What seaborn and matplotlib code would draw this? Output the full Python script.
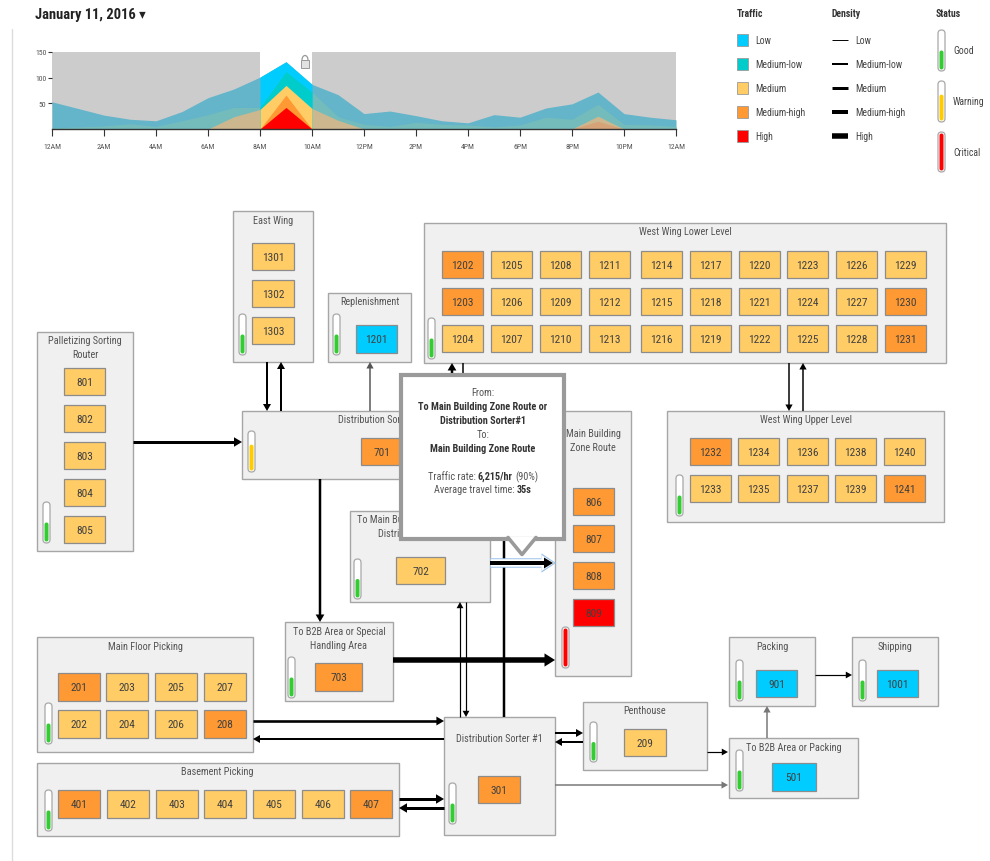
import numpy as np
import matplotlib
matplotlib.use("Agg")
import matplotlib.pyplot as plt
from matplotlib import font_manager
from matplotlib.patches import Rectangle, FancyBboxPatch, Polygon, Arc
import seaborn as sns

# ---------------- data ----------------
hours = np.arange(25)
hour_ticks = [0, 2, 4, 6, 8, 10, 12, 14, 16, 18, 20, 22, 24]
hour_labels = ["12AM", "2AM", "4AM", "6AM", "8AM", "10AM", "12PM",
               "2PM", "4PM", "6PM", "8PM", "10PM", "12AM"]

# top of each traffic band per hour (bands overlap, drawn back to front)
low_top = [53, 40, 27, 19, 16, 34, 61, 78, 101, 131, 87, 67, 30, 35, 26, 16,
           12, 28, 23, 41, 49, 72, 30, 23, 18]
medlow_top = [2, 4, 6, 10, 5, 16, 28, 42, 42, 112, 72, 24, 9, 5, 13, 9,
              8, 4, 8, 23, 19, 48, 9, 8, 5]
medium_top = [0, 0, 0, 0, 0, 0, 0, 24, 38, 85, 40, 17, 0, 0, 0, 0,
              0, 0, 0, 0, 0, 25, 0, 0, 0]
medhigh_top = [0, 0, 0, 0, 0, 0, 0, 0, 0, 66, 0, 0, 0, 0, 0, 0,
               0, 0, 0, 0, 0, 15, 0, 0, 0]
high_top = [0, 0, 0, 0, 0, 0, 0, 0, 0, 42, 0, 0, 0, 0, 0, 0,
            0, 0, 0, 0, 0, 0, 0, 0, 0]

traffic_levels = ["Low", "Medium-low", "Medium", "Medium-high", "High"]
traffic_codes = ["L", "ML", "M", "MH", "H"]
status_labels = ["Good", "Warning", "Critical"]
status_fill = [0.5, 0.68, 1.0]

east_wing = ["1301", "1302", "1303"]
east_wing_lvl = ["M", "M", "M"]
replenishment = ["1201"]
replenishment_lvl = ["L"]
palletizing = ["801", "802", "803", "804", "805"]
palletizing_lvl = ["M", "M", "M", "M", "M"]
sorter2 = ["701"]
sorter2_lvl = ["MH"]
wwll_rows = [["1202", "1205", "1208", "1211", "1214", "1217", "1220", "1223", "1226", "1229"],
             ["1203", "1206", "1209", "1212", "1215", "1218", "1221", "1224", "1227", "1230"],
             ["1204", "1207", "1210", "1213", "1216", "1219", "1222", "1225", "1228", "1231"]]
wwll_lvl = [["MH", "M", "M", "M", "M", "M", "M", "M", "M", "M"],
            ["MH", "M", "M", "M", "M", "M", "M", "M", "M", "MH"],
            ["M", "M", "M", "M", "M", "M", "M", "M", "M", "MH"]]
wwul_rows = [["1232", "1234", "1236", "1238", "1240"],
             ["1233", "1235", "1237", "1239", "1241"]]
wwul_lvl = [["MH", "M", "M", "M", "M"],
            ["M", "M", "M", "M", "MH"]]
route702 = ["702"]
route702_lvl = ["M"]
main_zone = ["806", "807", "808", "809"]
main_zone_lvl = ["MH", "MH", "MH", "H"]
special703 = ["703"]
special703_lvl = ["MH"]
floor_rows = [["201", "203", "205", "207"], ["202", "204", "206", "208"]]
floor_lvl = [["MH", "M", "M", "M"], ["M", "M", "M", "MH"]]
basement = ["401", "402", "403", "404", "405", "406", "407"]
basement_lvl = ["MH", "M", "M", "M", "M", "M", "MH"]
sorter1 = ["301"]
sorter1_lvl = ["MH"]
penthouse = ["209"]
penthouse_lvl = ["M"]
b2b_pack = ["501"]
b2b_pack_lvl = ["L"]
packing = ["901"]
packing_lvl = ["L"]
shipping = ["1001"]
shipping_lvl = ["L"]

# ---------------- style ----------------
sns.set_theme(style="white")

# the reference uses a narrow sans; take a condensed face if one is installed
prefs = ["Liberation Sans Narrow", "Roboto Condensed", "Open Sans Condensed", "Noto Sans",
         "Open Sans", "Roboto", "DejaVu Sans"]
cond = {}
for f in font_manager.fontManager.ttflist:
    if f.stretch in ("condensed", "semi-condensed", "extra-condensed") or "Narrow" in f.name \
            or "Condensed" in f.name:
        cond.setdefault(f.name, f.stretch)
FONT, STRETCH = "Liberation Sans", "normal"
for p in prefs:
    if p in cond:
        FONT, STRETCH = p, cond[p]
        break
plt.rcParams["font.family"] = [FONT, "DejaVu Sans"]
plt.rcParams["font.stretch"] = STRETCH

traffic_colors = sns.color_palette(["#00ccff", "#00cccc", "#ffcc66", "#ff9933", "#ff0000"])
muted_colors = ["#64b4ca", "#74bcbc", "#cdb78e", "#d5a377", "#d98a80"]
status_colors = ["#33cc33", "#ffcc00", "#ff0000"]
LEVEL = dict(zip(traffic_codes, traffic_colors))
DENS = dict(zip(traffic_codes, [1.2, 2.0, 3.0, 4.0, 5.5]))
PANEL_FC, PANEL_EC, TXT = "#f0f0f0", "#a6a6a6", "#555555"

fig = plt.figure(figsize=(9.9, 8.62), dpi=100)
ax = fig.add_axes([0, 0, 1, 1])
ax.set_xlim(0, 990)
ax.set_ylim(862, 0)
ax.axis("off")
renderer = fig.canvas.get_renderer()


def text_w(s, weight, size):
    fp = font_manager.FontProperties(family=[FONT, "DejaVu Sans"], size=size, weight=weight,
                                     stretch=STRETCH)
    return renderer.get_text_width_height_descent(s, fp, ismath=False)[0]


# calibrate: "West Wing Lower Level" is about 94 px wide in the reference
K = 94.0 / text_w("West Wing Lower Level", "normal", 8)
FS = 8 * K


def panel(x0, y0, x1, y1, lines, ty, cx=None):
    ax.add_patch(Rectangle((x0, y0), x1 - x0, y1 - y0, fc=PANEL_FC, ec=PANEL_EC, lw=1.0, zorder=2))
    cx = (x0 + x1) / 2 if cx is None else cx
    for i, s in enumerate(lines):
        ax.text(cx, ty + i * 14, s, ha="center", va="center", fontsize=FS, color=TXT, zorder=3)


def tile(x, y, label, lvl, w=41, h=27):
    ax.add_patch(Rectangle((x, y), w, h, fc=LEVEL[lvl], ec="#8c8c8c", lw=0.9, zorder=3))
    ax.text(x + w / 2, y + h / 2 + 0.5, label, ha="center", va="center", fontsize=FS * 1.1,
            color="#404040", zorder=4)


def thermo(x, y0, y1, status, w=7):
    k = status_labels.index(status)
    ax.add_patch(FancyBboxPatch((x, y0), w, y1 - y0, boxstyle=f"round,pad=0,rounding_size={w / 2}",
                                fc="white", ec="#a8a8a8", lw=0.9, zorder=3))
    fh = (y1 - y0 - 3) * status_fill[k]
    iw = w - 3
    ax.add_patch(FancyBboxPatch((x + 1.5, y1 - 1.5 - fh), iw, fh,
                                boxstyle=f"round,pad=0,rounding_size={iw / 2}",
                                fc=status_colors[k], ec="none", zorder=4))


def arrow(x0, y0, x1, y1, dens, color="black", head=True, z=5):
    w = DENS[dens] if isinstance(dens, str) else dens
    dx, dy = x1 - x0, y1 - y0
    L = np.hypot(dx, dy)
    ux, uy = dx / L, dy / L
    if not head:
        ax.plot([x0, x1], [y0, y1], color=color, lw=w * 0.72, solid_capstyle="butt", zorder=z)
        return
    hl, hw = 5 + w, 5 + 1.5 * w
    ax.plot([x0, x1 - ux * hl * 0.6], [y0, y1 - uy * hl * 0.6], color=color, lw=w * 0.72,
            solid_capstyle="butt", zorder=z)
    bx, by = x1 - ux * hl, y1 - uy * hl
    px, py = -uy, ux
    ax.add_patch(Polygon([(x1, y1), (bx + px * hw / 2, by + py * hw / 2),
                          (bx - px * hw / 2, by - py * hw / 2)], closed=True,
                         fc=color, ec="none", zorder=z))


# page border
ax.plot([12, 12], [30, 862], color="#dcdcdc", lw=1, zorder=1)

# title
ax.text(35, 15, "January 11, 2016 \u25BE", fontsize=FS * 1.4, color="#222222", va="center",
        ha="left", fontweight="semibold")

# ---------------- legend ----------------
LFS = FS * 0.95
ax.text(737, 14, "Traffic", fontsize=LFS, fontweight="bold", color="#333333", va="center")
ax.text(832, 14, "Density", fontsize=LFS, fontweight="bold", color="#333333", va="center")
ax.text(936, 14, "Status", fontsize=LFS, fontweight="bold", color="#333333", va="center")
for i, (lab, c, code) in enumerate(zip(traffic_levels, traffic_colors, traffic_codes)):
    y = 41 + i * 24
    ax.add_patch(Rectangle((737, y - 6), 11, 12, fc=c, ec="#9a9a9a", lw=0.6))
    ax.text(755, y, lab, fontsize=LFS, color="#444444", va="center")
    ax.plot([832, 848], [y, y], color="black", lw=DENS[code] * 0.72 * (0.8 if i == 0 else 1),
            solid_capstyle="butt")
    ax.text(855, y, lab, fontsize=LFS, color="#444444", va="center")
for lab, (y0, y1), ly in zip(status_labels, [(31, 72), (82, 123), (133, 173)], [51, 102, 153]):
    thermo(938, y0, y1, lab)
    ax.text(953, ly, lab, fontsize=LFS, color="#444444", va="center")

# ---------------- zones ----------------
panel(233, 212, 313, 363, ["East Wing"], 221)
for lab, lvl, y in zip(east_wing, east_wing_lvl, [244, 281, 318]):
    tile(252, y, lab, lvl, w=42)
thermo(239, 315, 356, "Good")

panel(328, 294, 411, 363, ["Replenishment"], 302)
tile(356, 326, replenishment[0], replenishment_lvl[0], h=28)
thermo(333, 315, 356, "Good")

panel(37, 333, 133, 552, ["Palletizing Sorting", "Router"], 341)
for lab, lvl, y in zip(palletizing, palletizing_lvl, [369, 406, 443, 480, 517]):
    tile(64, y, lab, lvl)
thermo(43, 503, 544, "Good")

panel(242, 412, 520, 480, ["Distribution Sorter #2"], 420, cx=381)
tile(361, 439, sorter2[0], sorter2_lvl[0], w=42)
thermo(248, 432, 473, "Warning")

panel(424, 224, 946, 364, ["West Wing Lower Level"], 232, cx=685)
for row, lrow, y in zip(wwll_rows, wwll_lvl, [252, 289, 326]):
    for lab, lvl, x in zip(row, lrow, [442, 491, 540, 589, 641, 690, 739, 787, 836, 885]):
        tile(x, y, lab, lvl)
thermo(428, 319, 360, "Good")

panel(667, 412, 944, 523, ["West Wing Upper Level"], 420, cx=806)
for row, lrow, y in zip(wwul_rows, wwul_lvl, [439, 476]):
    for lab, lvl, x in zip(row, lrow, [690, 738, 787, 835, 884]):
        tile(x, y, lab, lvl)
thermo(676, 476, 517, "Good")

panel(350, 512, 490, 603, ["To Main Building Zone Route or", "Distribution Sorter#1"], 520, cx=420)
tile(396, 558, route702[0], route702_lvl[0], w=49)
thermo(354, 560, 600, "Good")

panel(555, 412, 631, 677, ["Main Building", "Zone Route"], 434, cx=593)
for lab, lvl, y in zip(main_zone, main_zone_lvl, [489, 526, 563, 600]):
    tile(573, y, lab, lvl)
thermo(562, 628, 669, "Critical")

panel(285, 623, 393, 702, ["To B2B Area or Special", "Handling Area"], 632)
tile(315, 664, special703[0], special703_lvl[0], w=47, h=28)
thermo(288, 658, 699, "Good")

panel(37, 638, 253, 753, ["Main Floor Picking"], 647, cx=145)
for row, lrow, y in zip(floor_rows, floor_lvl, [674, 711]):
    for lab, lvl, x in zip(row, lrow, [58, 106, 155, 204]):
        tile(x, y, lab, lvl, w=42, h=28)
thermo(45, 704, 745, "Good")

panel(37, 764, 399, 837, ["Basement Picking"], 772, cx=217)
for lab, lvl, x in zip(basement, basement_lvl, [58, 107, 156, 204, 253, 302, 350]):
    tile(x, 791, lab, lvl, w=42, h=28)
thermo(45, 791, 832, "Good")

panel(444, 718, 555, 836, ["Distribution Sorter #1"], 739)
tile(478, 777, sorter1[0], sorter1_lvl[0], w=42)
thermo(449, 784, 825, "Good")

panel(583, 703, 707, 771, ["Penthouse"], 711)
tile(624, 730, penthouse[0], penthouse_lvl[0], w=42)
thermo(590, 723, 763, "Good")

panel(729, 739, 858, 799, ["To B2B Area or Packing"], 748)
tile(772, 764, b2b_pack[0], b2b_pack_lvl[0], w=44, h=28)
thermo(736, 751, 792, "Good")

panel(729, 638, 815, 707, ["Packing"], 647)
tile(756, 671, packing[0], packing_lvl[0])
thermo(736, 661, 702, "Good")

panel(852, 638, 938, 707, ["Shipping"], 647)
tile(877, 671, shipping[0], shipping_lvl[0])
thermo(859, 661, 702, "Good")

# ---------------- flows ----------------
arrow(267, 363, 267, 412, "ML")
arrow(281, 412, 281, 363, "ML")
arrow(370, 412, 370, 363, 1.5, color="#555555")
arrow(133, 443, 242, 443, "M")
arrow(320, 480, 320, 623, 2.5)
arrow(452, 420, 452, 364, 2.5)
arrow(463, 364, 463, 420, 1.5, head=False)
arrow(504, 450, 504, 718, 2.5, head=False)
arrow(460, 718, 460, 603, "L")
arrow(466, 603, 466, 718, "L")
arrow(393, 661, 555, 661, "H")
arrow(253, 722, 444, 722, 2.6)
arrow(444, 740, 253, 740, "ML")
arrow(399, 800, 444, 800, "M")
arrow(444, 809, 399, 809, "M")
arrow(555, 734, 583, 734, "ML")
arrow(583, 743, 555, 743, "ML")
arrow(707, 753, 728, 753, "L")
arrow(555, 786, 728, 786, 1.5, color="#777777")
arrow(767, 739, 767, 707, 1.5, color="#777777")
arrow(815, 676, 852, 676, "L")
arrow(789, 364, 789, 412, 1.5)
arrow(803, 412, 803, 364, 1.5)

# highlighted flow (702 -> main building zone route)
arrow(490, 564, 556, 564, 9.5, color="#9cc3ea", z=6)
arrow(491, 564, 554, 564, 7.5, color="white", z=6)
arrow(490, 564, 553, 564, "MH", z=7)

# ---------------- tooltip ----------------
ax.add_patch(Rectangle((401, 376), 163, 164, fc="white", ec="#9a9a9a", lw=3, zorder=10))
ax.add_patch(Polygon([(508, 538), (522, 555), (536, 538)], closed=True, fc="white", ec="none", zorder=11))
ax.plot([508, 522, 536], [538.5, 555.5, 538.5], color="#9a9a9a", lw=2.6, zorder=11)


def rich_line(cx, y, parts):
    sp = text_w("x x", "normal", FS) - text_w("xx", "normal", FS)
    ws = [text_w(s, wt, FS) for s, wt, c in parts]
    x = cx - (sum(ws) + sp * (len(parts) - 1)) / 2
    for (s, wt, c), w in zip(parts, ws):
        ax.text(x, y, s, ha="left", va="center", fontsize=FS, fontweight=wt, color=c, zorder=12)
        x += w + sp


tcx = 483
for s, y, wt in [("From:", 393, "normal"), ("To Main Building Zone Route or", 407, "bold"),
                 ("Distribution Sorter#1", 421, "bold"), ("To:", 435, "normal"),
                 ("Main Building Zone Route", 449, "bold")]:
    ax.text(tcx, y, s, ha="center", va="center", fontsize=FS, fontweight=wt,
            color="#333333" if wt == "bold" else "#555555", zorder=12)
rich_line(tcx, 477, [("Traffic rate:", "normal", "#555555"), ("6,215/hr", "bold", "#333333"),
                     ("(90%)", "normal", "#555555")])
rich_line(tcx, 490, [("Average travel time:", "normal", "#555555"), ("35s", "bold", "#333333")])

# ---------------- traffic area chart ----------------
cax = fig.add_axes([52 / 990, 1 - 130 / 862, 624 / 990, 77 / 862])
cax.set_xlim(0, 24)
cax.set_ylim(0, 150)
cax.patch.set_alpha(0)
cax.axvspan(0, 8, color="#cccccc", lw=0, zorder=0)
cax.axvspan(10, 24, color="#cccccc", lw=0, zorder=0)
bands = [low_top, medlow_top, medium_top, medhigh_top, high_top]
for top, mc in zip(bands, muted_colors):
    cax.fill_between(hours, 0, top, color=mc, lw=0, zorder=1)
sel = slice(8, 11)
for top, c in zip(bands, traffic_colors):
    cax.fill_between(hours[sel], 0, np.array(top)[sel], color=c, lw=0, zorder=2)
sns.despine(ax=cax, left=True)
cax.spines["bottom"].set_color("#333333")
cax.spines["bottom"].set_linewidth(1)
cax.set_xticks(hour_ticks)
cax.set_xticklabels(hour_labels)
cax.set_yticks([50, 100, 150])
cax.tick_params(axis="x", bottom=True, length=5, width=0.8, color="#333333", pad=5,
                labelsize=FS * 0.75, labelcolor="#555555")
cax.tick_params(axis="y", left=True, length=3, width=0.8, color="#333333", pad=1,
                labelsize=FS * 0.75, labelcolor="#555555")
cax.grid(False)

# lock icon on the brush
ax.add_patch(Rectangle((301, 61), 8, 8, fc="#e2e2e2", ec="#999999", lw=0.7, zorder=6))
ax.add_patch(Arc((305, 61), 6, 9, theta1=180, theta2=360, ec="#999999", lw=0.9, zorder=6))

fig.savefig("out.png", dpi=100)
